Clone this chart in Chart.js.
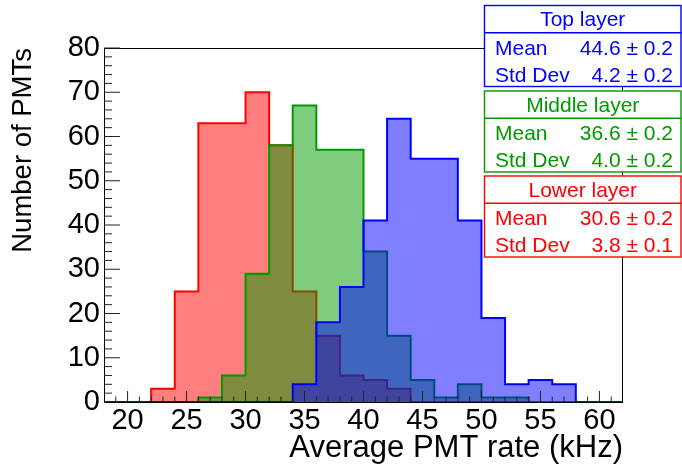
<!DOCTYPE html>
<html>
<head>
<meta charset="utf-8">
<script src="https://cdn.jsdelivr.net/npm/chart.js@4.4.1/dist/chart.umd.min.js"></script>
<style>
  html, body { margin: 0; padding: 0; background: #fff; }
  canvas { display: block; }
</style>
</head>
<body>
<canvas id="c" width="682" height="468"></canvas>
<script>
// Histogram binning: 22 bins of 2 kHz between 18 and 62 kHz
const binEdges = [18, 20, 22, 24, 26, 28, 30, 32, 34, 36, 38, 40, 42, 44, 46, 48, 50, 52, 54, 56, 58, 60, 62];

// PMT counts per bin for each layer
const lowerCounts  = [0, 0, 3, 25, 63, 63, 70, 58, 25, 15, 6, 5, 3, 0, 0, 0, 0, 0, 0, 0, 0, 0];
const middleCounts = [0, 0, 0, 0, 1, 6, 29, 58, 67, 57, 57, 34, 15, 5, 1, 4, 1, 1, 0, 0, 0, 0];
const topCounts    = [0, 0, 0, 0, 0, 0, 0, 0, 4, 18, 26, 41, 64, 55, 55, 41, 19, 4, 5, 4, 0, 0];

// Axis tick labels
const xTickValues = [20, 25, 30, 35, 40, 45, 50, 55, 60];
const yTickValues = [0, 10, 20, 30, 40, 50, 60, 70, 80];

// Statistics boxes (top to bottom)
const layerNames   = ['Top layer', 'Middle layer', 'Lower layer'];
const layerMeans   = ['44.6', '36.6', '30.6'];
const layerMeanErr = ['0.2', '0.2', '0.2'];
const layerStdDevs = ['4.2', '4.0', '3.8'];
const layerStdErr  = ['0.2', '0.2', '0.1'];

const COLORS = {
  top:    { line: '#0000ff', fill: 'rgba(0,0,255,0.5)' },
  middle: { line: '#009900', fill: 'rgba(0,153,0,0.5)' },
  lower:  { line: '#ff0000', fill: 'rgba(255,0,0,0.5)' }
};
const boxColors = [COLORS.top.line, COLORS.middle.line, COLORS.lower.line];
const FONT = 'Liberation Sans, Arial, Helvetica, sans-serif';

// Turn bin contents into step points: each point opens its bin at the left edge
function histPoints(counts) {
  const pts = counts.map((c, i) => ({ x: binEdges[i], y: c }));
  pts.push({ x: binEdges[binEdges.length - 1], y: counts[counts.length - 1] });
  return pts;
}

function histDataset(label, counts, col, order) {
  return {
    label,
    data: histPoints(counts),
    stepped: 'before',
    borderColor: col.line,
    backgroundColor: col.fill,
    borderWidth: 2,
    pointRadius: 0,
    fill: 'origin',
    order
  };
}

// Frame underneath the histograms, inward ticks on top of them, stat boxes last
const rootAxes = {
  id: 'rootAxes',
  beforeDatasetsDraw(chart) {
    const { ctx, chartArea: a } = chart;
    ctx.save();
    ctx.strokeStyle = '#000';
    ctx.lineWidth = 1;
    ctx.strokeRect(a.left + 0.5, a.top + 0.5, a.right - a.left - 1, a.bottom - a.top);
    ctx.restore();
  },
  afterDatasetsDraw(chart) {
    const { ctx, chartArea: a, scales } = chart;
    const xs = scales.x, ys = scales.y;
    ctx.save();
    ctx.strokeStyle = '#222';
    ctx.lineWidth = 1;
    ctx.beginPath();
    for (let v = ys.min; v <= ys.max; v += 2) {
      const y = ys.getPixelForValue(v);
      const len = (v % 10 === 0) ? 16 : 8;
      ctx.moveTo(a.left, y);
      ctx.lineTo(a.left + len, y);
    }
    for (let v = xs.min + 1; v < xs.max; v += 1) {
      const x = xs.getPixelForValue(v);
      const len = (v % 5 === 0) ? 11 : 5.5;
      ctx.moveTo(x, a.bottom);
      ctx.lineTo(x, a.bottom - len);
    }
    ctx.stroke();
    ctx.restore();
  },
  afterDraw(chart) {
    const { ctx } = chart;
    const left = 484, right = 681.5, height = 81, titleH = 27.7;
    const tops = [5, 90.5, 175.5];
    ctx.save();
    ctx.font = '21px ' + FONT;
    for (let i = 0; i < layerNames.length; i++) {
      const t = tops[i];
      const col = boxColors[i];
      ctx.fillStyle = '#fff';
      ctx.fillRect(left, t, right - left, height);
      ctx.strokeStyle = col;
      ctx.lineWidth = 1.4;
      ctx.strokeRect(left + 0.5, t + 0.5, right - left - 1, height);
      ctx.beginPath();
      ctx.moveTo(left, t + titleH);
      ctx.lineTo(right, t + titleH);
      ctx.stroke();

      ctx.fillStyle = col;
      ctx.textBaseline = 'alphabetic';
      ctx.textAlign = 'center';
      ctx.fillText(layerNames[i], (left + right) / 2, t + 21);
      ctx.textAlign = 'left';
      ctx.fillText('Mean', 495, t + 49.5);
      ctx.fillText('Std Dev', 495, t + 76.5);
      ctx.textAlign = 'right';
      ctx.fillText(layerMeans[i] + ' \u00b1 ' + layerMeanErr[i], 673, t + 49.5);
      ctx.fillText(layerStdDevs[i] + ' \u00b1 ' + layerStdErr[i], 673, t + 76.5);
    }
    ctx.restore();
  }
};

new Chart(document.getElementById('c'), {
  type: 'line',
  data: {
    datasets: [
      histDataset('Top layer', topCounts, COLORS.top, 1),
      histDataset('Middle layer', middleCounts, COLORS.middle, 2),
      histDataset('Lower layer', lowerCounts, COLORS.lower, 3)
    ]
  },
  options: {
    responsive: false,
    animation: false,
    devicePixelRatio: 1,
    layout: { autoPadding: false, padding: { top: 48, right: 59, left: 0, bottom: 0 } },
    plugins: {
      legend: { display: false },
      tooltip: { enabled: false },
      filler: { drawTime: 'beforeDatasetDraw' }
    },
    scales: {
      x: {
        type: 'linear',
        position: 'bottom',
        min: 18,
        max: 62,
        grid: { display: false, drawTicks: false },
        border: { display: false },
        afterBuildTicks: s => { s.ticks = xTickValues.map(v => ({ value: v })); },
        afterFit: s => { s.height = 66; },
        ticks: {
          font: { family: FONT, size: 29 },
          color: '#000',
          padding: 2,
          maxRotation: 0,
          autoSkip: false
        },
        title: {
          display: true,
          text: 'Average PMT rate (kHz)',
          align: 'end',
          color: '#000',
          font: { family: FONT, size: 31 },
          padding: { top: 0, bottom: 1 }
        }
      },
      y: {
        type: 'linear',
        position: 'left',
        min: 0,
        max: 80,
        grid: { display: false, drawTicks: false },
        border: { display: false },
        afterBuildTicks: s => { s.ticks = yTickValues.map(v => ({ value: v })); },
        afterFit: s => { s.width = 104; },
        ticks: {
          font: { family: FONT, size: 29 },
          color: '#000',
          padding: 4,
          autoSkip: false
        },
        title: {
          display: true,
          text: 'Number of PMTs',
          align: 'end',
          color: '#000',
          font: { family: FONT, size: 27.5 },
          padding: { top: 6.5, bottom: 0 }
        }
      }
    }
  },
  plugins: [rootAxes]
});
</script>
</body>
</html>
